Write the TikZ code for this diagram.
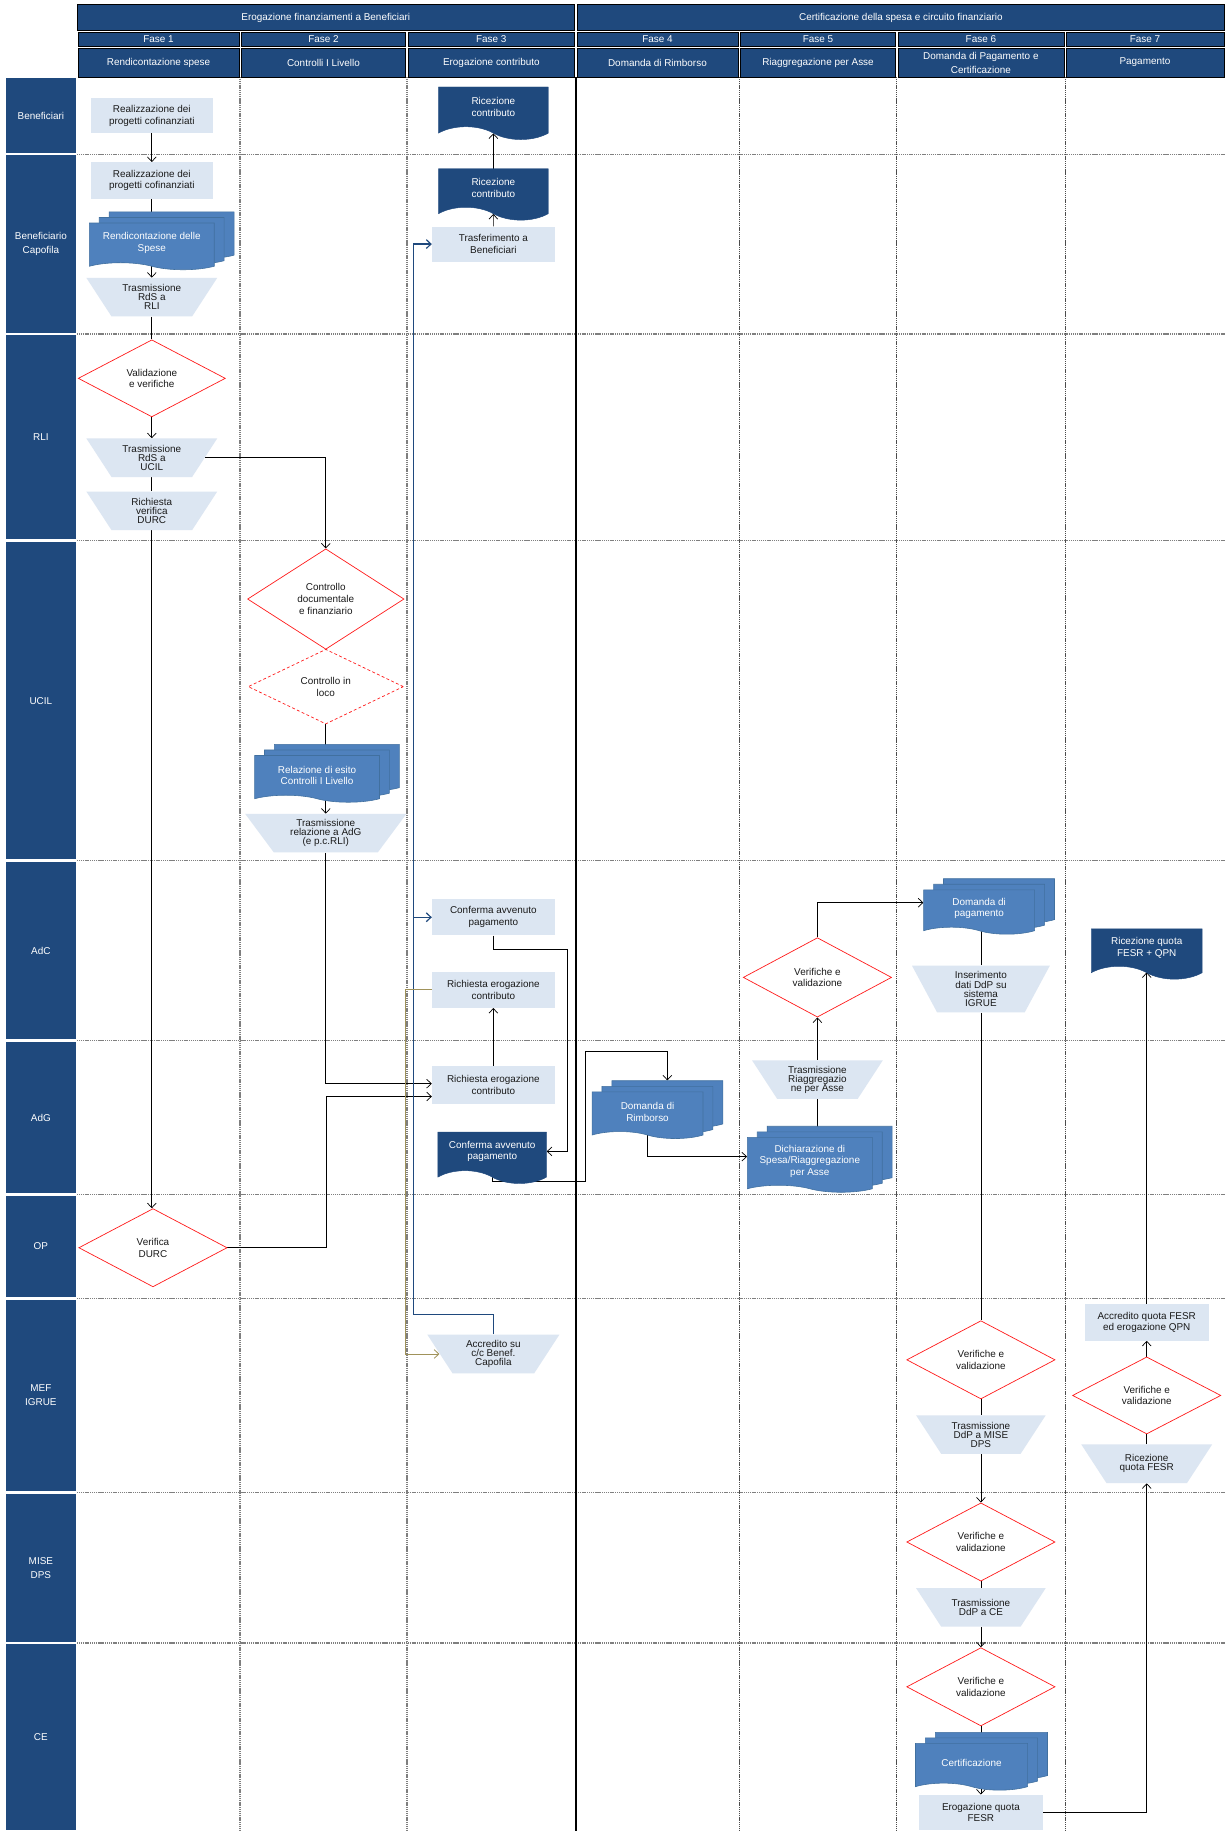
\documentclass[tikz,border=0pt]{standalone}
\usepackage{fontspec}
\setmainfont{Liberation Sans}
\usetikzlibrary{arrows.meta,positioning,calc,shapes.geometric,shapes.symbols,shadows,backgrounds}
\definecolor{lanefill}{HTML}{1F497D}
\definecolor{boxfill}{HTML}{DCE6F2}
\definecolor{docfill}{HTML}{4F81BD}
\definecolor{docline}{HTML}{41709F}
\definecolor{alert}{HTML}{FF1A1A}
\definecolor{grid}{HTML}{7F7F7F}
\definecolor{ochre}{HTML}{A0925A}
\definecolor{ink}{HTML}{1A1A1A}
\newcommand{\flowfont}{\fontsize{8.5}{10}\selectfont}
\newcommand{\trapfont}{\fontsize{8.5}{7.8}\selectfont}
\newcommand{\headfont}{\fontsize{8.5}{12}\selectfont}
\tikzset{
  lane/.style={fill=lanefill, text=white, align=center, inner sep=0pt,
               minimum width=60pt, font=\headfont},
  phase/.style={fill=lanefill, draw=black, line width=0.5pt, text=white,
                align=center, inner sep=0pt, font=\headfont},
  litebox/.style={fill=boxfill, minimum width=105pt, minimum height=31pt,
                  inner sep=0pt, align=center, font=\flowfont, text=ink},
  trapbox/.style={minimum width=112pt, minimum height=33pt, inner sep=0pt,
                  align=center, font=\trapfont, text=ink,
                  path picture={\fill[boxfill] (path picture bounding box.north west)
                    -- (path picture bounding box.north east)
                    -- ([xshift=-#1]path picture bounding box.south east)
                    -- ([xshift=#1]path picture bounding box.south west) -- cycle;}},
  trapbox/.default=21.5pt,
  decision/.style={diamond, draw=alert, line width=0.6pt, fill=white,
                   minimum width=127pt, minimum height=67pt, inner sep=0pt,
                   align=center, font=\flowfont, text=ink},
  docbox/.style={tape, tape bend top=none, tape bend bottom=out and in,
                 tape bend height=11pt, fill=lanefill, draw=lanefill, text=white,
                 minimum width=94pt, minimum height=44pt, inner sep=1pt,
                 align=center, font=\flowfont},
  multidoc/.style={docbox, fill=docfill, draw=docline, line width=0.5pt,
                   tape bend height=6pt, minimum width=107pt, minimum height=40pt,
                   copy shadow={shadow xshift=17pt, shadow yshift=9.5pt},
                   copy shadow={shadow xshift=8.5pt, shadow yshift=4.75pt}},
  gridline/.style={draw=grid, line width=1pt, dash pattern=on 1pt off 0.6pt},
  link/.style={draw=black, line width=0.6pt},
  arrow/.style={link, -{Straight Barb[length=4pt,width=7.5pt]}},
  bluearrow/.style={draw=lanefill, line width=1pt, -{Straight Barb[length=4pt,width=7.5pt]}},
  olivearrow/.style={draw=ochre, line width=0.7pt, -{Straight Barb[length=4pt,width=7.5pt]}}
}

\begin{document}
\begin{tikzpicture}[x=1pt,y=-1pt]
  \useasboundingbox (0,0) rectangle (1049,1568);

  % header
  \node[phase, minimum width=425pt, minimum height=22pt] (macro1) at (279,15)
    {Erogazione finanziamenti a Beneficiari};
  \node[phase, minimum width=554pt, minimum height=22pt] (macro2) at (771.5,15)
    {Certificazione della spesa e circuito finanziario};
  \foreach \a/\b/\lab [count=\i] in {66/205.5/Rendicontazione spese,
      205.5/348.5/Controlli I Livello, 348.5/493/Erogazione contributo,
      493/633/Domanda di Rimborso, 633/768/Riaggregazione per Asse,
      768/912/{Domanda di Pagamento e\\Certificazione}, 912/1049/Pagamento} {
    \node[phase, minimum width={(\b-\a-2)*1pt}, minimum height=11.5pt] (fase\i)
      at ({(\a+\b)/2},33.75) {Fase \i};
    \node[phase, minimum width={(\b-\a-2)*1pt}, minimum height=25pt] (col\i)
      at ({(\a+\b)/2},53.5) {\lab};
  }

  % lanes
  \foreach \a/\b/\lab [count=\i] in {66/132/Beneficiari, 132/286/{Beneficiario\\Capofila},
      286/463/RLI, 463/737/UCIL, 737/891/AdC, 891/1023/AdG, 1023/1112/OP,
      1112/1278/{MEF\\IGRUE}, 1278/1407/{MISE\\DPS}, 1407/1568/CE}
    {\node[lane, minimum height={(\b-\a-2)*1pt}] (lane\i) at (35,{(\a+\b)/2}) {\lab};}

  % fase 1
  \node[litebox, minimum height=30pt] (B1) at (130,99) {Realizzazione dei\\progetti cofinanziati};
  \node[litebox] (C1) at (130,154.5) {Realizzazione dei\\progetti cofinanziati};
  \node[multidoc] (C2) at (130,208) {Rendicontazione delle\\Spese};
  \node[trapbox] (C3) at (130,254.5) {Trasmissione\\RdS a\\RLI};
  \node[decision, minimum width=126pt, minimum height=66pt] (R1) at (130,324) {Validazione\\e verifiche};
  \node[trapbox] (R2) at (130,392) {Trasmissione\\RdS a\\UCIL};
  \node[trapbox] (R3) at (130,437.5) {Richiesta\\verifica\\DURC};
  \node[decision] (OP1) at (131,1068.5) {Verifica\\DURC};

  % fase 2
  \node[decision, minimum width=134pt, minimum height=86pt] (U1) at (279,513)
    {Controllo\\documentale\\e finanziario};
  \node[decision, dash pattern=on 2.5pt off 2pt, minimum width=133pt, minimum height=64pt] (U2)
    at (279,588) {Controllo in\\loco};
  \node[multidoc] (U3) at (271.5,664) {Relazione di esito\\Controlli I Livello};
  \node[trapbox=24.5pt, minimum width=138pt] (U4) at (279,713.5)
    {Trasmissione\\relazione a AdG\\(e p.c.RLI)};

  % fase 3
  \node[docbox, minimum height=45pt] (B2) at (422.5,91.5) {Ricezione\\contributo};
  \node[docbox] (C4) at (422.5,161) {Ricezione\\contributo};
  \node[litebox, minimum height=30pt] (C5) at (422.5,209) {Trasferimento a\\Beneficiari};
  \node[litebox] (A1) at (422.5,785.5) {Conferma avvenuto\\pagamento};
  \node[litebox] (A2) at (422.5,847.5) {Richiesta erogazione\\contributo};
  \node[litebox, minimum height=32pt] (G1) at (422.5,929) {Richiesta erogazione\\contributo};
  \node[docbox, minimum width=93pt] (G2) at (421.5,986) {Conferma avvenuto\\pagamento};
  \node[trapbox, minimum width=113pt] (M1) at (422.5,1159.5) {Accredito su\\c/c Benef.\\Capofila};

  % fase 4 and 5
  \node[multidoc, minimum width=95pt] (G3) at (554.5,952) {Domanda di\\Rimborso};
  \node[decision, minimum height=68pt] (A3) at (700,837) {Verifiche e\\validazione};
  \node[trapbox] (G4) at (700,924.5) {Trasmissione\\Riaggregazio\\ne per Asse};
  \node[multidoc, minimum height=47pt] (G5) at (693.5,994.5)
    {Dichiarazione di\\Spesa/Riaggregazione\\per Asse};

  % fase 6
  \node[multidoc, minimum width=95pt, minimum height=38pt] (A4) at (838.5,778) {Domanda di\\pagamento};
  \node[trapbox, minimum width=118pt, minimum height=40pt] (A5) at (840,847)
    {Inserimento\\dati DdP su\\sistema\\IGRUE};
  \node[decision] (M2) at (840,1164.5) {Verifiche e\\validazione};
  \node[trapbox, minimum width=111pt] (M3) at (840,1228.5) {Trasmissione\\DdP a MISE\\DPS};
  \node[decision] (D1) at (840,1320.5) {Verifiche e\\validazione};
  \node[trapbox, minimum width=111pt] (D2) at (840,1376.5) {Trasmissione\\DdP a CE};
  \node[decision] (E1) at (840,1444.5) {Verifiche e\\validazione};
  \node[multidoc, minimum width=96pt] (E2) at (832,1510) {Certificazione};
  \node[litebox, minimum width=106pt, minimum height=30pt] (E3) at (840,1552) {Erogazione quota\\FESR};

  % fase 7
  \node[docbox, minimum width=95pt, minimum height=43pt] (A6) at (982,811.5) {Ricezione quota\\FESR + QPN};
  \node[litebox, minimum width=106pt] (M4) at (982,1132.5) {Accredito quota FESR\\ed erogazione QPN};
  \node[decision, minimum height=66pt] (M5) at (982,1195) {Verifiche e\\validazione};
  \node[trapbox] (M6) at (982,1253.5) {Ricezione\\quota FESR};

  \begin{scope}[on background layer]
    \fill[white] (0,0) rectangle (1049,1568);
    % swimlane grid
    \foreach \y in {132,286,463,737,891,1023,1112,1278,1407}
      {\draw[gridline] (66,\y) -- (1049,\y);}
    \foreach \x in {205.5,348.5}
      {\draw[gridline, line width=1.2pt] (\x,66) -- (\x,1568);}
    \foreach \x in {633,768,912}
      {\draw[gridline, draw=black!70, line width=0.7pt] (\x,66) -- (\x,1568);}
    \draw[black, line width=1.6pt] (493,66) -- (493,1568);

    % flow fase 1-2
    \draw[arrow] (B1) -- (C1);
    \draw[link] (C1.south) -- (C2.north);
    \draw[arrow] (C2.south) -- (C3.north);
    \draw[link] (C3.south) -- (R1.north);
    \draw[arrow] (R1.south) -- (R2.north);
    \draw[link] (R2.south) -- (R3.north);
    \draw[arrow] (R3.south) -- (R3.south |- OP1.north);
    \draw[arrow] ([xshift=-10.5pt]R2.east) -| (U1.north);
    \draw[arrow] (U1) -- (U2);
    \draw[link] (U2.south) -- (U2.south |- U3.north);
    \draw[arrow] (U3.south -| U4.north) -- (U4.north);
    \draw[arrow] (U4.south) |- ([yshift=1pt]G1.west);
    \draw[arrow] (OP1.east) -- ++(85,0) |- ([yshift=-10pt]G1.west);

    % flow fase 3-5
    \draw[arrow] (C5) -- (C4);
    \draw[arrow] (C4.north) -- ([yshift=-5.5pt]B2.south);
    \draw[arrow] (G1) -- (A2);
    \draw[arrow] (A1.south) -- ++(0,12) -- ++(63,0) |- (G2.east);
    \draw[arrow] (G2.south) -- ++(0,9) -- ++(79.5,0) -- ++(0,-111)
      -| ([xshift=17pt,yshift=9.5pt]G3.north);
    \draw[arrow] (G3.south) |- ([yshift=4pt]G5.west);
    \draw[link] (G4.south) -- (G4.south |- G5.north);
    \draw[arrow] (G4) -- (A3);
    \draw[arrow] (A3.north) |- ([yshift=5pt]A4.west);
    \draw[bluearrow] (M1.north) -- ++(0,-17) -- ++(-68.5,0) coordinate (kb) |- (C5.west);
    \draw[bluearrow] (kb |- A1.west) -- (A1.west);
    \draw[olivearrow] (A2.west) -- ++(-23,0) |- ([xshift=10.5pt]M1.west);

    % flow fase 6-7
    \draw[link] (A5.north) -- (A5.north |- A4.south);
    \draw[link] (A5) -- (M2);
    \draw[link] (M2) -- (M3);
    \draw[arrow] (M3) -- (D1);
    \draw[link] (D1) -- (D2);
    \draw[arrow] (D2) -- (E1);
    \draw[link] (E1.south) -- (E1.south |- E2.north);
    \draw[arrow] (E2.south -| E3.north) -- (E3.north);
    \draw[arrow] (E3.east) -| (M6.south);
    \draw[link] (M6) -- (M5);
    \draw[arrow] (M5) -- (M4);
    \draw[arrow] (M4.north) -- ([yshift=-5pt]A6.south);
  \end{scope}
\end{tikzpicture}
\end{document}
